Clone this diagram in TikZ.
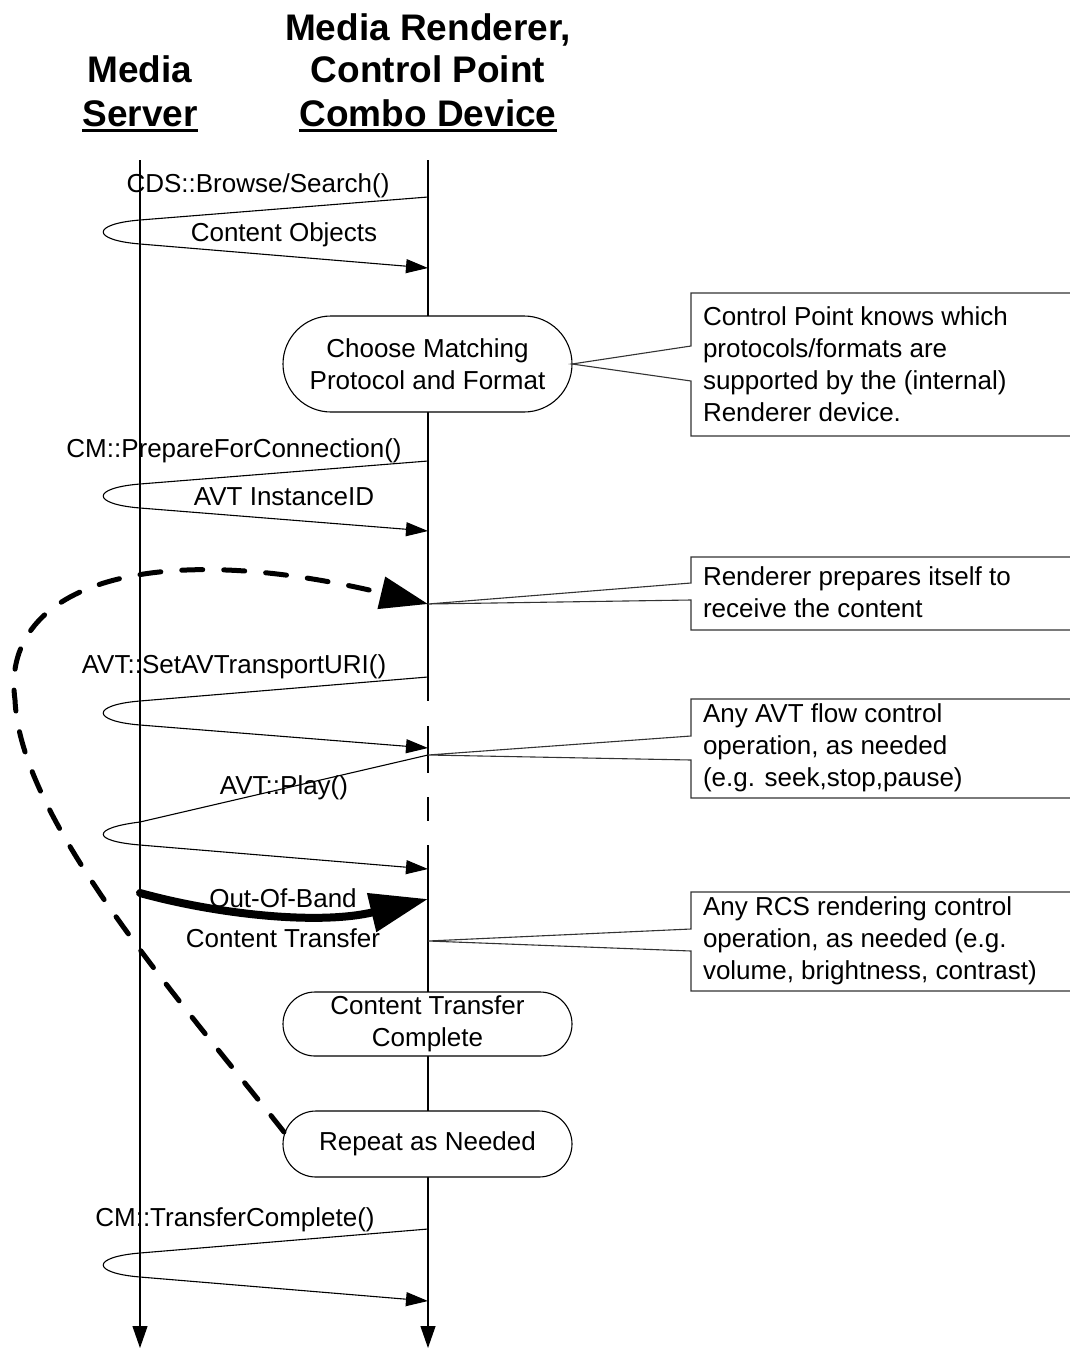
\documentclass[tikz,border=0pt]{standalone}
\usepackage{fontspec}
\setmainfont{Liberation Sans}
\usetikzlibrary{arrows.meta}
\begin{document}
\begin{tikzpicture}[x=1pt,y=-1pt,
  every node/.style={inner sep=0pt, outer sep=0pt},
  hdr/.style={font=\fontsize{37}{43}\selectfont\bfseries, anchor=base},
  lbl/.style={font=\fontsize{26}{32}\selectfont, anchor=base},
  notetxt/.style={font=\fontsize{26}{32}\selectfont, align=left, anchor=west},
  pill/.style={rectangle, draw, fill=white, line width=1.1pt, minimum width=289pt, align=center, font=\fontsize{26}{32}\selectfont},
  life/.style={line width=1.2pt},
  lifeend/.style={line width=1.2pt, -{Triangle[length=22pt,width=15pt]}},
  msg/.style={line width=1.1pt, -{Triangle[length=22pt,width=14pt]}},
  notebox/.style={line width=1.1pt, draw=black!80},
  ul/.style={line width=3pt},
  oob/.style={line width=8pt, line cap=round, -{Triangle[length=58pt,width=38pt]}},
  repeatline/.style={line width=5pt, line cap=round, dash pattern=on 21pt off 21pt, -{Triangle[length=48pt,width=32pt]}}
]
\fill[white] (0,0) rectangle (1070,1349);
\useasboundingbox (0,0) rectangle (1070,1349);

% headers
\node[hdr] (ms1) at (140,82) {Media};
\node[hdr] (ms2) at (140,126) {Server};
\draw[ul] ([yshift=-4.5pt]ms2.base west) -- ([yshift=-4.5pt]ms2.base east);
\node[hdr] (mr1) at (428,40) {Media Renderer,};
\node[hdr] (mr2) at (428,82) {Control Point};
\node[hdr] (mr3) at (428,126) {Combo Device};
\draw[ul] ([yshift=-4.5pt]mr3.base west) -- ([yshift=-4.5pt]mr3.base east);

% lifelines
\coordinate (msT) at (140,160);
\coordinate (msB) at (140,1348);
\coordinate (mrT) at (428,160);
\coordinate (mrB) at (428,1348);
\coordinate (g1) at (428,701);
\coordinate (g2) at (428,726);
\coordinate (g3) at (428,773);
\coordinate (g4) at (428,797);
\coordinate (g5) at (428,821);
\coordinate (g6) at (428,845);
\draw[lifeend] (msT) -- (msB);
\draw[life] (mrT) -- (g1) (g2) -- (g3) (g4) -- (g5);
\draw[lifeend] (g6) -- (mrB);

% message 1
\coordinate (m1a) at (428,197);
\coordinate (m1b) at (140,220);
\coordinate (m1c) at (140,244);
\coordinate (m1d) at (428,268);
\draw[msg] (m1a) -- (m1b) .. controls +(-49,4) and +(-49,-4) .. (m1c) -- (m1d);
\node[lbl] (l1a) at (258,192) {CDS::Browse/Search()};
\node[lbl] (l1b) at (284,241) {Content Objects};

% message 2
\coordinate (m2a) at (428,461);
\coordinate (m2b) at (140,484);
\coordinate (m2c) at (140,508);
\coordinate (m2d) at (428,531);
\draw[msg] (m2a) -- (m2b) .. controls +(-49,4) and +(-49,-4) .. (m2c) -- (m2d);
\node[lbl] (l2a) at (234,457) {CM::PrepareForConnection()};
\node[lbl] (l2b) at (284,505) {AVT InstanceID};

% message 3
\coordinate (m3a) at (428,677);
\coordinate (m3b) at (140,701);
\coordinate (m3c) at (140,725);
\coordinate (m3d) at (428,748);
\draw[msg] (m3a) -- (m3b) .. controls +(-49,4) and +(-49,-4) .. (m3c) -- (m3d);
\node[lbl] (l3a) at (234,673) {AVT::SetAVTransportURI()};

% message 4
\coordinate (m4a) at (428,755);
\coordinate (m4b) at (140,822);
\coordinate (m4c) at (140,845);
\coordinate (m4d) at (428,869);
\draw[msg] (m4a) -- (m4b) .. controls +(-49,6) and +(-49,-4) .. (m4c) -- (m4d);
\node[lbl] (l4a) at (284,794) {AVT::Play()};

% message 5
\coordinate (m5a) at (428,1229);
\coordinate (m5b) at (140,1253);
\coordinate (m5c) at (140,1277);
\coordinate (m5d) at (428,1301);
\draw[msg] (m5a) -- (m5b) .. controls +(-49,4) and +(-49,-4) .. (m5c) -- (m5d);
\node[lbl] (l5a) at (235,1226) {CM::TransferComplete()};

% pills
\node[pill, minimum height=96pt, rounded corners=48pt] (pA) at (427.5,364) {Choose Matching\\Protocol and Format};
\node[pill, minimum height=64pt, rounded corners=32pt] (pB) at (427.5,1024) {Content Transfer\\Complete};
\node[pill, minimum height=66pt, rounded corners=33pt] (pC) at (427.5,1144) {Repeat as Needed};

% out-of-band transfer
\coordinate (obS) at (140,893);
\coordinate (obE) at (428,899);
\draw[oob] (obS) .. controls (220,915) and (320,925) .. (obE);
\node[lbl] (lob1) at (283,907) {Out-Of-Band};
\node[lbl] (lob2) at (283,947) {Content Transfer};

% repeat loop
\coordinate (rpS) at (284,1132);
\coordinate (rB) at (428,604);
\draw[repeatline] (rpS) .. controls (180,1000) and (20,820) .. (15,700) .. controls (0,590) and (140,535) .. (rB);

% note A
\node[notetxt] (nA) at (703,364) {Control Point knows which\\protocols/formats are\\supported by the (internal)\\Renderer device.};
\coordinate (nA1) at (1070,293);
\coordinate (nA2) at (691,293);
\coordinate (nA3) at (691,346);
\coordinate (nA4) at (691,381);
\coordinate (nA5) at (691,436);
\coordinate (nA6) at (1070,436);
\draw[notebox] (nA1) -- (nA2) -- (nA3) -- (pA.east) -- (nA4) -- (nA5) -- (nA6);

% note B
\node[notetxt] (nB) at (703,592.5) {Renderer prepares itself to\\receive the content};
\coordinate (nB1) at (1070,557);
\coordinate (nB2) at (691,557);
\coordinate (nB3) at (691,583);
\coordinate (nB4) at (691,600);
\coordinate (nB5) at (691,630);
\coordinate (nB6) at (1070,630);
\draw[notebox] (nB1) -- (nB2) -- (nB3) -- (rB) -- (nB4) -- (nB5) -- (nB6);

% note C
\node[notetxt] (nC) at (703,748) {Any AVT flow control\\operation, as needed\\(e.g. seek,stop,pause)};
\coordinate (nC1) at (1070,699);
\coordinate (nC2) at (691,699);
\coordinate (nC3) at (691,736);
\coordinate (nC4) at (691,760);
\coordinate (nC5) at (691,798);
\coordinate (nC6) at (1070,798);
\draw[notebox] (nC1) -- (nC2) -- (nC3) -- (m4a) -- (nC4) -- (nC5) -- (nC6);

% note D
\coordinate (rD) at (428,941);
\node[notetxt] (nD) at (703,941) {Any RCS rendering control\\operation, as needed (e.g.\\volume, brightness, contrast)};
\coordinate (nD1) at (1070,892);
\coordinate (nD2) at (691,892);
\coordinate (nD3) at (691,929);
\coordinate (nD4) at (691,951);
\coordinate (nD5) at (691,991);
\coordinate (nD6) at (1070,991);
\draw[notebox] (nD1) -- (nD2) -- (nD3) -- (rD) -- (nD4) -- (nD5) -- (nD6);
\end{tikzpicture}
\end{document}
